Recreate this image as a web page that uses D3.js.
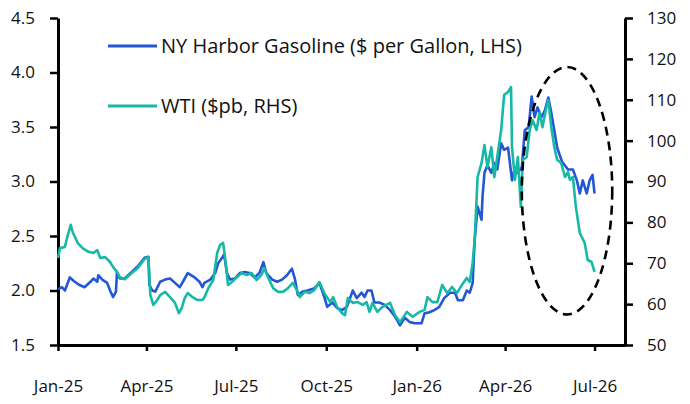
<!DOCTYPE html>
<html>
<head>
<meta charset="utf-8">
<script src="https://cdn.jsdelivr.net/npm/d3@7/dist/d3.min.js"></script>
<style>
  body { margin: 0; background: #fff; }
  svg { display: block; }
  .axis text { font-family: "Open Sans", sans-serif; font-size: 17px; fill: #111; }
  .axis path, .axis line { stroke: #000; }
</style>
</head>
<body>
<script>

var gasDates = [
  "2025-01-01","2025-01-05","2025-01-08","2025-01-13","2025-01-18","2025-01-23","2025-01-28","2025-02-03",
  "2025-02-06","2025-02-10","2025-02-11","2025-02-15","2025-02-20","2025-02-23","2025-02-26","2025-03-01",
  "2025-03-02","2025-03-05","2025-03-10","2025-03-17","2025-03-23","2025-03-30","2025-04-03","2025-04-04",
  "2025-04-07","2025-04-10","2025-04-15","2025-04-20","2025-04-25","2025-04-30","2025-05-05","2025-05-10",
  "2025-05-13","2025-05-20","2025-05-25","2025-05-28","2025-05-30","2025-06-05","2025-06-10","2025-06-13",
  "2025-06-17","2025-06-19","2025-06-22","2025-06-25","2025-06-30","2025-07-05","2025-07-10","2025-07-15",
  "2025-07-20","2025-07-25","2025-07-29","2025-08-01","2025-08-07","2025-08-12","2025-08-17","2025-08-22",
  "2025-08-27","2025-08-30","2025-09-02","2025-09-07","2025-09-12","2025-09-19","2025-09-24","2025-09-29",
  "2025-10-02","2025-10-07","2025-10-12","2025-10-17","2025-10-22","2025-10-28","2025-11-01","2025-11-06",
  "2025-11-09","2025-11-12","2025-11-16","2025-11-19","2025-11-24","2025-11-29","2025-12-05","2025-12-10",
  "2025-12-15","2025-12-20","2025-12-25","2025-12-30","2026-01-06","2026-01-09","2026-01-14","2026-01-19",
  "2026-01-24","2026-01-29","2026-02-04","2026-02-09","2026-02-12","2026-02-17","2026-02-21","2026-02-24",
  "2026-02-27","2026-03-01","2026-03-04","2026-03-08","2026-03-09","2026-03-11","2026-03-14","2026-03-18",
  "2026-03-21","2026-03-24","2026-03-28","2026-03-31","2026-04-04","2026-04-08","2026-04-11","2026-04-14",
  "2026-04-18","2026-04-21","2026-04-25","2026-04-28","2026-05-01","2026-05-04","2026-05-08","2026-05-11",
  "2026-05-15","2026-05-18","2026-05-21","2026-05-24","2026-05-29","2026-06-04","2026-06-09","2026-06-13",
  "2026-06-16","2026-06-19","2026-06-23","2026-06-26","2026-06-29","2026-07-01"
];
var gasValues = [
  2.01,2.03,2.00,2.12,2.08,2.05,2.03,2.08,
  2.11,2.08,2.14,2.10,2.07,2.00,1.94,1.99,
  2.17,2.11,2.11,2.17,2.22,2.30,2.31,2.05,
  2.00,1.99,2.08,2.10,2.11,2.07,2.03,2.11,
  2.16,2.12,2.08,2.03,2.07,2.10,2.16,2.25,
  2.30,2.33,2.16,2.10,2.11,2.16,2.17,2.16,
  2.12,2.16,2.26,2.16,2.10,2.08,2.10,2.14,
  2.20,2.11,1.96,1.99,2.00,2.02,2.07,1.94,
  1.85,1.89,1.84,1.82,1.85,2.00,1.93,1.98,
  1.94,2.00,2.00,1.89,1.89,1.87,1.82,1.76,
  1.68,1.75,1.71,1.70,1.70,1.79,1.80,1.82,
  1.85,1.93,1.98,1.98,1.91,1.91,2.00,1.98,
  2.07,2.46,2.77,2.65,2.86,3.08,3.15,3.08,
  3.17,3.11,3.35,3.29,3.31,3.01,3.13,3.08,
  3.13,3.47,3.50,3.78,3.59,3.68,3.59,3.64,
  3.77,3.63,3.47,3.31,3.18,3.11,3.11,3.01,
  2.89,3.01,2.89,3.01,3.06,2.89
];

var wtiDates = [
  "2025-01-01","2025-01-03","2025-01-08","2025-01-11","2025-01-14","2025-01-16","2025-01-21","2025-01-26",
  "2025-02-01","2025-02-06","2025-02-10","2025-02-13","2025-02-18","2025-02-23","2025-02-26","2025-03-02",
  "2025-03-05","2025-03-10","2025-03-17","2025-03-23","2025-03-30","2025-04-03","2025-04-05","2025-04-08",
  "2025-04-12","2025-04-15","2025-04-20","2025-04-25","2025-04-30","2025-05-04","2025-05-07","2025-05-10",
  "2025-05-13","2025-05-18","2025-05-23","2025-05-28","2025-05-30","2025-06-03","2025-06-08","2025-06-12",
  "2025-06-15","2025-06-18","2025-06-20","2025-06-23","2025-06-27","2025-07-02","2025-07-07","2025-07-12",
  "2025-07-17","2025-07-22","2025-07-27","2025-07-30","2025-08-03","2025-08-08","2025-08-13","2025-08-18",
  "2025-08-23","2025-08-28","2025-09-01","2025-09-04","2025-09-09","2025-09-14","2025-09-19","2025-09-24",
  "2025-09-29","2025-10-05","2025-10-08","2025-10-12","2025-10-17","2025-10-20","2025-10-23","2025-10-28",
  "2025-11-02","2025-11-07","2025-11-11","2025-11-14","2025-11-17","2025-11-22","2025-11-27","2025-12-05",
  "2025-12-10","2025-12-15","2025-12-22","2025-12-28","2026-01-04","2026-01-09","2026-01-12","2026-01-17",
  "2026-01-22","2026-01-27","2026-02-01","2026-02-06","2026-02-11","2026-02-16","2026-02-21","2026-02-24",
  "2026-02-27","2026-03-01","2026-03-04","2026-03-08","2026-03-11","2026-03-14","2026-03-18","2026-03-21",
  "2026-03-24","2026-03-28","2026-03-31","2026-04-04","2026-04-07","2026-04-08","2026-04-11","2026-04-14",
  "2026-04-17","2026-04-19","2026-04-23","2026-04-26","2026-04-29","2026-05-03","2026-05-06","2026-05-09",
  "2026-05-13","2026-05-15","2026-05-18","2026-05-21","2026-05-24","2026-05-28","2026-06-01","2026-06-04",
  "2026-06-06","2026-06-09","2026-06-12","2026-06-16","2026-06-21","2026-06-24","2026-06-28","2026-07-01"
];
var wtiValues = [
  71.3,73.7,74.0,76.9,79.4,77.6,75.0,73.7,
  72.8,72.5,73.2,71.3,71.5,70.3,69.1,67.9,
  66.6,66.1,67.6,68.8,71.0,71.5,62.2,59.8,
  61.0,62.2,63.0,61.7,60.3,57.8,59.1,61.5,
  62.7,61.7,61.0,61.0,61.7,63.9,65.9,72.5,
  74.5,75.0,71.5,64.7,65.4,66.6,67.6,67.1,
  67.6,65.9,67.1,68.8,66.4,63.9,63.0,63.0,
  63.9,65.2,63.5,61.7,63.0,62.7,63.5,65.4,
  62.7,60.5,61.7,59.3,57.8,57.3,61.5,60.3,
  60.5,59.8,60.5,58.1,60.3,58.1,59.3,60.3,
  57.3,55.6,58.1,56.9,58.1,58.6,61.7,60.5,
  60.5,64.7,62.7,64.2,62.7,64.7,66.4,65.4,
  70.1,75.7,91.1,94.5,98.9,93.5,98.4,91.1,
  96.0,102.6,111.2,111.9,113.1,98.4,90.4,96.0,
  83.8,95.3,96.0,102.6,105.0,102.6,106.8,103.3,
  108.2,109.9,103.3,98.4,95.3,94.5,91.1,92.3,
  90.4,91.1,83.8,77.4,75.0,70.8,70.3,67.9
];

var leftTicks = [1.5, 2.0, 2.5, 3.0, 3.5, 4.0, 4.5];
var rightTicks = [50, 60, 70, 80, 90, 100, 110, 120, 130];
var xTickDates = ["2025-01-01","2025-04-01","2025-07-01","2025-10-01","2026-01-01","2026-04-01","2026-07-01"];
var seriesNames = ["NY Harbor Gasoline ($ per Gallon, LHS)", "WTI ($pb, RHS)"];
var seriesColors = ["#2457d3", "#17b8a6"];

// dashed ring round the latest months
var ringStart = "2026-04-18", ringEnd = "2026-07-19", ringTop = 4.05, ringBottom = 1.78;

var w = 690, h = 404;
var margin = {top: 18, right: 65, bottom: 59, left: 58};
var parse = d3.timeParse("%Y-%m-%d");

var svg = d3.select("body")
            .append("svg")
            .attr("width", w)
            .attr("height", h);

var xScale = d3.scaleTime()
               .domain([parse("2025-01-01"), parse("2026-08-01")])
               .range([margin.left, w - margin.right]);

var yLeft = d3.scaleLinear()
              .domain([1.5, 4.5])
              .range([h - margin.bottom, margin.top]);

var yRight = d3.scaleLinear()
               .domain([50, 130])
               .range([h - margin.bottom, margin.top]);

var gas = gasDates.map(function(d, i){ return [parse(d), gasValues[i]]; });
var wti = wtiDates.map(function(d, i){ return [parse(d), wtiValues[i]]; });

// axes
var xAxis = svg.append("g")
               .attr("class", "axis")
               .attr("transform", "translate(0," + (h - margin.bottom) + ")")
               .call(d3.axisBottom(xScale)
                 .tickValues(xTickDates.map(parse))
                 .tickFormat(d3.timeFormat("%b-%y"))
                 .tickSize(6)
                 .tickSizeOuter(0)
                 .tickPadding(29));

var leftAxis = svg.append("g")
                  .attr("class", "axis")
                  .attr("transform", "translate(" + margin.left + ",0)")
                  .call(d3.axisLeft(yLeft)
                    .tickValues(leftTicks)
                    .tickFormat(d3.format(".1f"))
                    .tickSize(8)
                    .tickSizeOuter(0)
                    .tickPadding(15));

var rightAxis = svg.append("g")
                   .attr("class", "axis")
                   .attr("transform", "translate(" + (w - margin.right) + ",0)")
                   .call(d3.axisRight(yRight)
                     .tickValues(rightTicks)
                     .tickSize(8)
                     .tickSizeOuter(0)
                     .tickPadding(14));

svg.selectAll(".axis path").attr("stroke-width", 3);
svg.selectAll(".axis line").attr("stroke-width", 2.5);

// lines
var gasLine = d3.line()
                .x(function(d){ return xScale(d[0]); })
                .y(function(d){ return yLeft(d[1]); });

var wtiLine = d3.line()
                .x(function(d){ return xScale(d[0]); })
                .y(function(d){ return yRight(d[1]); });

svg.append("path")
   .datum(gas)
   .attr("d", gasLine)
   .attr("fill", "none")
   .attr("stroke", seriesColors[0])
   .attr("stroke-width", 2.6)
   .attr("stroke-linejoin", "round");

svg.append("path")
   .datum(wti)
   .attr("d", wtiLine)
   .attr("fill", "none")
   .attr("stroke", seriesColors[1])
   .attr("stroke-width", 2.6)
   .attr("stroke-linejoin", "round");

// dashed ellipse
var x0 = xScale(parse(ringStart)), x1 = xScale(parse(ringEnd));
var y0 = yLeft(ringTop), y1 = yLeft(ringBottom);
svg.append("ellipse")
   .attr("cx", (x0 + x1) / 2)
   .attr("cy", (y0 + y1) / 2)
   .attr("rx", (x1 - x0) / 2)
   .attr("ry", (y1 - y0) / 2)
   .attr("fill", "none")
   .attr("stroke", "#000")
   .attr("stroke-width", 2.6)
   .attr("stroke-dasharray", "9,6");

// legend
var legend = svg.selectAll(".legend")
                .data(seriesNames)
                .enter()
                .append("g")
                .attr("class", "legend")
                .attr("transform", function(d, i){
                  return "translate(108," + (46 + i * 60) + ")";
                });

legend.append("line")
      .attr("x1", 0)
      .attr("x2", 49)
      .attr("stroke", function(d, i){ return seriesColors[i]; })
      .attr("stroke-width", 3);

legend.append("text")
      .text(function(d){ return d; })
      .attr("x", 53)
      .attr("y", 7)
      .attr("font-family", "Open Sans, sans-serif")
      .attr("font-size", "20px")
      .attr("fill", "#111");

</script>
</body>
</html>
